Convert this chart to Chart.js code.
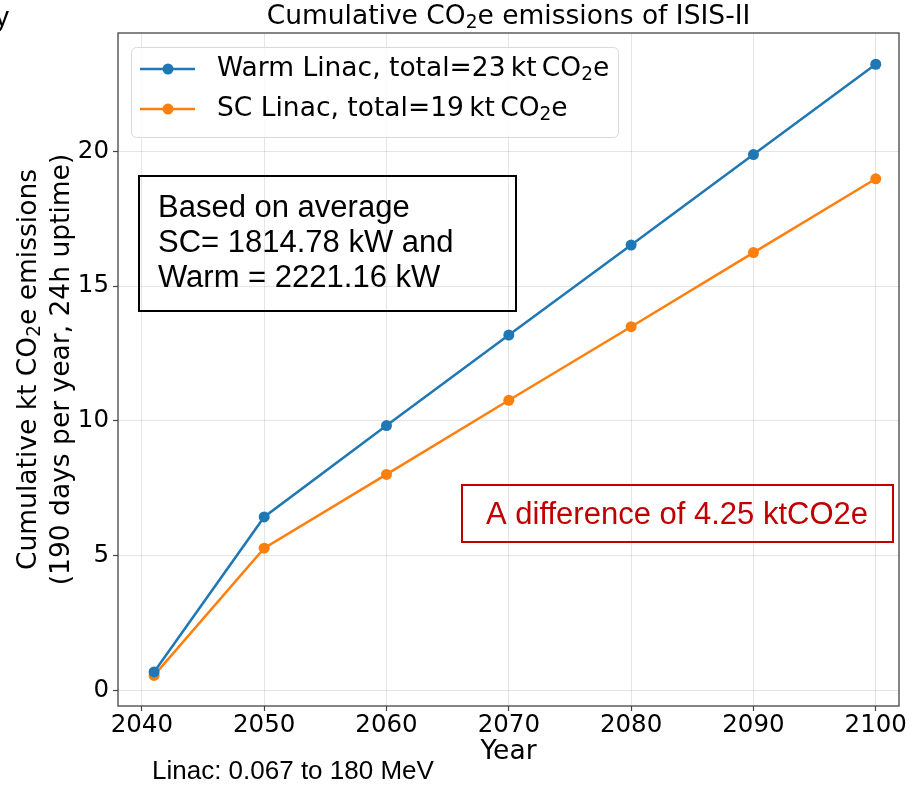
<!DOCTYPE html>
<html>
<head>
<meta charset="utf-8">
<script src="https://cdn.jsdelivr.net/npm/chart.js@4.4.1/dist/chart.umd.min.js"></script>
<style>
  html, body { margin: 0; padding: 0; background: #fff; }
  #wrap { width: 912px; height: 785px; }
</style>
</head>
<body>
<div id="wrap"><canvas id="c" width="912" height="785"></canvas></div>
<script>
// data
const years = [2041, 2050, 2060, 2070, 2080, 2090, 2100];
const warmLinac = [0.68, 6.43, 9.82, 13.18, 16.52, 19.88, 23.23];
const scLinac = [0.55, 5.27, 8.01, 10.76, 13.49, 16.24, 18.98];
const xTicks = [2040, 2050, 2060, 2070, 2080, 2090, 2100];
const yTicks = [0, 5, 10, 15, 20];
const seriesNames = ['Warm Linac, total=23\u2009kt\u2009CO', 'SC Linac, total=19\u2009kt\u2009CO'];

const BLUE = '#1f77b4', ORANGE = '#ff7f0e';
const DV = '"DejaVu Sans", sans-serif';
const AR = '"Liberation Sans", Arial, sans-serif';
const FS = 26.5; // label / title size

// draw text with a "2" subscript followed by a tail string
function subText(ctx, x, y, head, tail, size, align) {
  ctx.font = size + 'px ' + DV;
  const w1 = ctx.measureText(head).width;
  ctx.font = (size * 0.7) + 'px ' + DV;
  const w2 = ctx.measureText('2').width;
  ctx.font = size + 'px ' + DV;
  const w3 = ctx.measureText(tail).width;
  const total = w1 + w2 + w3;
  let sx = x;
  if (align === 'center') sx = x - total / 2;
  ctx.textAlign = 'left';
  ctx.fillText(head, sx, y);
  ctx.font = (size * 0.7) + 'px ' + DV;
  ctx.fillText('2', sx + w1, y + size * 0.22);
  ctx.font = size + 'px ' + DV;
  ctx.fillText(tail, sx + w1 + w2, y);
}

const decor = {
  id: 'decor',
  afterDraw(chart) {
    const ctx = chart.ctx;
    const a = chart.chartArea;
    ctx.save();
    // frame
    ctx.strokeStyle = '#444';
    ctx.lineWidth = 1.3;
    ctx.strokeRect(a.left, a.top, a.right - a.left, a.bottom - a.top);

    ctx.fillStyle = '#000';
    ctx.textBaseline = 'middle';
    // title
    subText(ctx, (a.left + a.right) / 2, 17, 'Cumulative CO', 'e emissions of ISIS-II', FS, 'center');
    // x title
    ctx.font = FS + 'px ' + DV;
    ctx.textAlign = 'center';
    ctx.fillText('Year', (a.left + a.right) / 2, 752);
    // y title (two lines, rotated)
    ctx.save();
    ctx.translate(29, (a.top + a.bottom) / 2);
    ctx.rotate(-Math.PI / 2);
    subText(ctx, 0, 0, 'Cumulative kt CO', 'e emissions', FS, 'center');
    ctx.font = FS + 'px ' + DV;
    ctx.textAlign = 'center';
    ctx.fillText('(190 days per year, 24h uptime)', 0, 33);
    ctx.restore();

    // legend
    ctx.fillStyle = 'rgba(255,255,255,0.8)';
    ctx.strokeStyle = '#d9d9d9';
    ctx.lineWidth = 1;
    ctx.beginPath();
    ctx.roundRect(131.5, 47.5, 487, 90, 5);
    ctx.fill();
    ctx.stroke();
    [[BLUE, 69], [ORANGE, 109]].forEach(([col, yy], i) => {
      ctx.strokeStyle = col;
      ctx.lineWidth = 2.5;
      ctx.beginPath();
      ctx.moveTo(140, yy);
      ctx.lineTo(195, yy);
      ctx.stroke();
      ctx.fillStyle = col;
      ctx.beginPath();
      ctx.arc(168, yy, 5.5, 0, Math.PI * 2);
      ctx.fill();
      ctx.fillStyle = '#000';
      subText(ctx, 217, yy, seriesNames[i], 'e', FS, 'left');
    });

    // black note box
    ctx.strokeStyle = '#000';
    ctx.lineWidth = 2;
    ctx.strokeRect(139, 176, 377, 135);
    ctx.fillStyle = '#000';
    ctx.font = '31px ' + AR;
    ctx.textAlign = 'left';
    ctx.fillText('Based on average', 158, 208);
    ctx.fillText('SC= 1814.78 kW and', 158, 243);
    ctx.fillText('Warm = 2221.16 kW', 158, 278);

    // red note box
    ctx.strokeStyle = '#c00000';
    ctx.strokeRect(462, 485, 431, 57);
    ctx.fillStyle = '#c00000';
    ctx.textAlign = 'center';
    ctx.fillText('A difference of 4.25 ktCO2e', 677, 515);

    // bottom caption and clipped fragment
    ctx.fillStyle = '#000';
    ctx.font = '26px ' + AR;
    ctx.textAlign = 'left';
    ctx.fillText('Linac: 0.067 to 180 MeV', 152, 772);
    ctx.font = '28px ' + AR;
    ctx.textBaseline = 'alphabetic';
    ctx.fillText('y', -5, 26);
    ctx.restore();
  }
};

const gridOpts = {
  color: 'rgba(0,0,0,0.10)',
  borderDash: [2, 2],
  tickColor: '#444',
  tickLength: 5,
  tickBorderDash: [],
  tickWidth: 1.2
};

new Chart(document.getElementById('c'), {
  type: 'line',
  data: {
    datasets: [
      {
        label: 'Warm Linac',
        data: years.map((x, i) => ({ x, y: warmLinac[i] })),
        borderColor: BLUE, backgroundColor: BLUE,
        borderWidth: 2.5, pointRadius: 5.5, pointHoverRadius: 5.5,
        pointBorderWidth: 0, tension: 0
      },
      {
        label: 'SC Linac',
        data: years.map((x, i) => ({ x, y: scLinac[i] })),
        borderColor: ORANGE, backgroundColor: ORANGE,
        borderWidth: 2.5, pointRadius: 5.5, pointHoverRadius: 5.5,
        pointBorderWidth: 0, tension: 0
      }
    ]
  },
  options: {
    responsive: false,
    animation: false,
    devicePixelRatio: 1,
    layout: { padding: { top: 33, right: 13, bottom: 0, left: 0 } },
    plugins: { legend: { display: false }, tooltip: { enabled: false }, title: { display: false } },
    scales: {
      x: {
        type: 'linear', min: 2038.05, max: 2101.9,
        afterBuildTicks: s => { s.ticks = xTicks.map(v => ({ value: v })); },
        afterFit: s => { s.height = 79; },
        grid: gridOpts,
        border: { display: false },
        ticks: { color: '#000', font: { family: DV, size: 24.5 }, padding: 0, maxRotation: 0, autoSkip: false,
                 callback: v => String(v) }
      },
      y: {
        type: 'linear', min: -0.585, max: 24.39,
        afterBuildTicks: s => { s.ticks = yTicks.map(v => ({ value: v })); },
        afterFit: s => { s.width = 118; },
        grid: gridOpts,
        border: { display: false },
        ticks: { color: '#000', font: { family: DV, size: 24.5 }, padding: 4, autoSkip: false }
      }
    }
  },
  plugins: [decor]
});
</script>
</body>
</html>
